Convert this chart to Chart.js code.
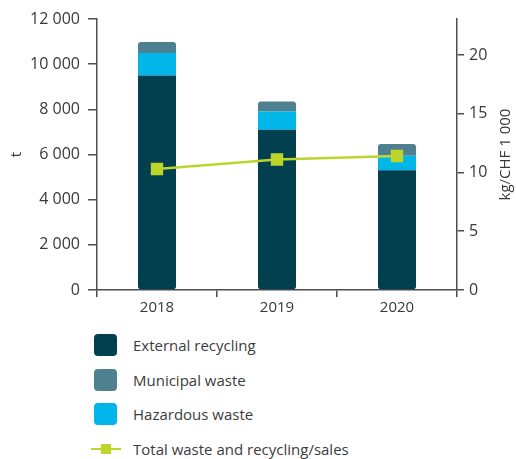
<!DOCTYPE html>
<html lang="en">
<head>
  <meta charset="UTF-8" />
  <meta name="viewport" content="width=device-width, initial-scale=1.0" />
  <title>Waste and recycling</title>
  <script src="https://cdn.jsdelivr.net/npm/chart.js"></script>
  <style>
    body {
      margin: 0;
      background: #fff;
      font-family: "Open Sans", sans-serif;
      color: #3c3c3c;
    }
    .chart-container {
      position: relative;
      width: 516px;
      height: 320px;
    }
    #legend {
      position: absolute;
      left: 91px;
      top: 327.75px;
    }
    .item {
      display: flex;
      align-items: center;
      height: 34.5px;
      font-size: 15px;
    }
    .symbol {
      position: relative;
      width: 42px;
      height: 24px;
    }
    .box {
      position: absolute;
      left: 3px;
      top: 1px;
      width: 23px;
      height: 22px;
      border-radius: 4px;
    }
    .line {
      position: absolute;
      left: 0;
      top: 11px;
      width: 30px;
      height: 2.5px;
    }
    .marker {
      position: absolute;
      left: 10px;
      top: 7px;
      width: 10px;
      height: 10px;
    }
  </style>
</head>
<body>
  <div class="chart-container">
    <canvas id="wasteChart" width="516" height="320"></canvas>
  </div>
  <div id="legend"></div>

  <script>
    const years = ['2018', '2019', '2020'];
    const externalRecycling = [9500, 7100, 5300]; // t
    const hazardousWaste = [1000, 800, 650];      // t
    const municipalWaste = [480, 450, 520];       // t
    const wastePerSales = [10.3, 11.1, 11.4];     // kg/CHF 1 000

    const axisColor = '#4d4d4d';
    const textColor = '#383838';

    Chart.defaults.font.family = '"Open Sans", sans-serif';
    Chart.defaults.color = textColor;

    const spaced = v => String(v).replace(/\B(?=(\d{3})+(?!\d))/g, ' ');

    // right axis title reads bottom-to-top, Chart.js would rotate it the other way
    const rightTitle = {
      id: 'rightTitle',
      afterDraw(chart) {
        const ctx = chart.ctx;
        const area = chart.chartArea;
        ctx.save();
        ctx.translate(506, (area.top + area.bottom) / 2);
        ctx.rotate(-Math.PI / 2);
        ctx.font = '15px "Open Sans", sans-serif';
        ctx.fillStyle = textColor;
        ctx.textAlign = 'center';
        ctx.textBaseline = 'middle';
        ctx.fillText('kg/CHF 1 000', 0, 0);
        ctx.restore();
      }
    };

    const barStyle = { borderSkipped: false, order: 1, yAxisID: 'y' };

    const chart = new Chart(document.getElementById('wasteChart'), {
      data: {
        labels: years,
        datasets: [
          {
            type: 'bar', label: 'External recycling', data: externalRecycling, backgroundColor: '#03404f',
            borderRadius: { bottomLeft: 3, bottomRight: 3 }, ...barStyle
          },
          {
            type: 'bar', label: 'Hazardous waste', data: hazardousWaste, backgroundColor: '#00b6e8',
            borderRadius: 0, ...barStyle
          },
          {
            type: 'bar', label: 'Municipal waste', data: municipalWaste, backgroundColor: '#4e808f',
            borderRadius: { topLeft: 3, topRight: 3 }, ...barStyle
          },
          {
            type: 'line',
            label: 'Total waste and recycling/sales',
            data: wastePerSales,
            yAxisID: 'y2',
            order: 0,
            borderColor: '#bdd52b',
            backgroundColor: '#bdd52b',
            borderWidth: 2.5,
            pointStyle: 'rect',
            pointRadius: 7,
            pointHoverRadius: 7,
            tension: 0
          }
        ]
      },
      options: {
        responsive: false,
        animation: false,
        barPercentage: 0.317,
        categoryPercentage: 1,
        layout: { padding: { top: 19, left: 0, right: 0, bottom: 0 } },
        plugins: {
          legend: { display: false },
          tooltip: { enabled: false }
        },
        scales: {
          x: {
            stacked: true,
            grid: { drawOnChartArea: false, tickLength: 7, color: axisColor, lineWidth: 1.5 },
            border: { color: axisColor, width: 1.5 },
            ticks: { font: { size: 15 }, padding: 2 },
            afterFit(s) { s.height = 30; }
          },
          y: {
            stacked: true,
            position: 'left',
            min: 0,
            max: 12000,
            grid: { drawOnChartArea: false, tickLength: 9, color: axisColor, lineWidth: 1.5 },
            border: { color: axisColor, width: 1.5 },
            ticks: { stepSize: 2000, padding: 8, font: { size: 16 }, callback: v => spaced(v) },
            title: { display: true, text: 't', font: { size: 15 }, padding: { top: 8, bottom: 0 } },
            afterFit(s) { s.width = 97; }
          },
          y2: {
            position: 'right',
            min: 0,
            max: 23.06,
            grid: { drawOnChartArea: false, tickLength: 7, color: axisColor, lineWidth: 1.5 },
            border: { color: axisColor, width: 1.5 },
            ticks: { stepSize: 5, padding: 5, font: { size: 16 } },
            afterBuildTicks(s) { s.ticks = s.ticks.filter(t => t.value % 5 === 0); },
            afterFit(s) { s.width = 59; }
          }
        }
      },
      plugins: [rightTitle]
    });

    // legend in the original order: external, municipal, hazardous, line
    const legendOrder = ['External recycling', 'Municipal waste', 'Hazardous waste', 'Total waste and recycling/sales'];
    const legend = document.getElementById('legend');
    legendOrder.forEach(name => {
      const ds = chart.data.datasets.find(d => d.label === name);
      const item = document.createElement('div');
      item.className = 'item';
      let symbol;
      if (ds.type === 'line') {
        symbol = `<div class="symbol"><div class="line" style="background:${ds.borderColor}"></div><div class="marker" style="background:${ds.backgroundColor}"></div></div>`;
      } else {
        symbol = `<div class="symbol"><div class="box" style="background:${ds.backgroundColor}"></div></div>`;
      }
      item.innerHTML = symbol + `<span>${ds.label}</span>`;
      legend.appendChild(item);
    });
  </script>
</body>
</html>
